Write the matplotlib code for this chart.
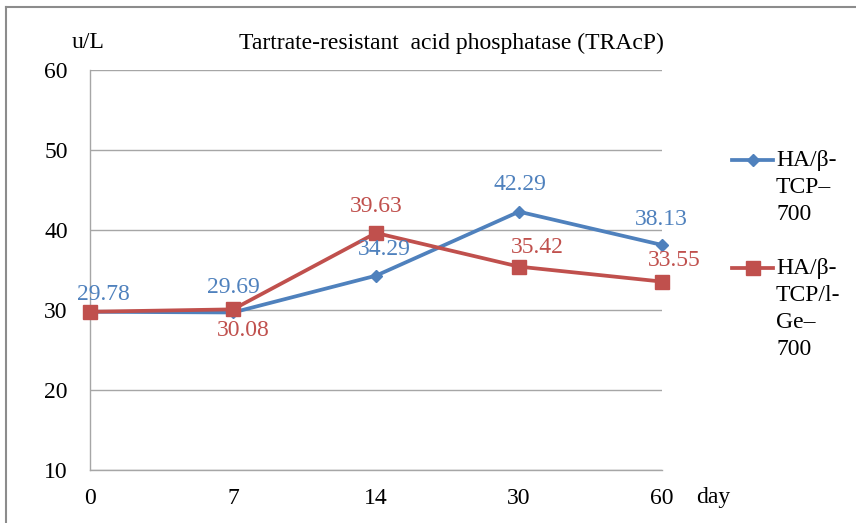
import matplotlib.pyplot as plt
from matplotlib.lines import Line2D

days = ["0", "7", "14", "30", "60"]
ha_tcp = [29.78, 29.69, 34.29, 42.29, 38.13]
ha_tcp_ge = [29.78, 30.08, 39.63, 35.42, 33.55]
y_ticks = [10, 20, 30, 40, 50, 60]
names = ["HA/β-\nTCP–\n700", "HA/β-\nTCP/l-\nGe–\n700"]

BLUE = "#4F81BD"
RED = "#C0504D"
GRID = "#A6A6A6"
FS = 17

plt.rcParams["font.family"] = ["Liberation Serif", "DejaVu Serif"]

fig = plt.figure(figsize=(8.56, 5.23), dpi=100)
W, H = 856, 523
ax = fig.add_axes([90 / W, 1 - 470 / H, (662 - 90) / W, 400 / H])

x = list(range(len(days)))
styles = [dict(color=BLUE, marker="D", ms=6.5, zorder=3),
          dict(color=RED, marker="s", ms=9.5, zorder=4)]
for vals, st in zip([ha_tcp, ha_tcp_ge], styles):
    ax.plot(x, vals, lw=2.7, clip_on=False, **st)

# label offsets in pixels (dx, dy), None = no label
offsets = [[(13, 17), (0, 25), (8, 26), (1, 27), (-1, 25)],
           [None, (10, -21), (0, 26), (18, 19), (12, 21)]]
for vals, offs, col in zip([ha_tcp, ha_tcp_ge], offsets, [BLUE, RED]):
    for i, v in enumerate(vals):
        if offs[i] is None:
            continue
        ax.annotate(f"{v:.2f}", (i, v), xytext=offs[i], textcoords="offset pixels",
                    ha="center", va="center", color=col, fontsize=FS, zorder=5)

ax.set_xlim(0, len(days) - 1)
ax.set_ylim(10, 60)
ax.set_yticks(y_ticks)
ax.set_xticks(x)
ax.set_xticklabels(days)
ax.tick_params(length=0, labelsize=FS)
ax.tick_params(axis="x", pad=13)
ax.tick_params(axis="y", pad=16)
ax.yaxis.grid(True, color=GRID, lw=1)
ax.set_axisbelow(True)
for s in ["top", "right"]:
    ax.spines[s].set_visible(False)
for s in ["left", "bottom"]:
    ax.spines[s].set_color(GRID)
    ax.spines[s].set_linewidth(1)

fig.text(88 / W, 1 - 43 / H, "u/L", ha="center", va="center", fontsize=FS)
fig.text(451 / W, 1 - 43 / H, "Tartrate-resistant  acid phosphatase (TRAcP)",
         ha="center", va="center", fontsize=FS)
fig.text(713 / W, 1 - 497 / H, "day", ha="center", va="center", fontsize=FS)

# legend, handle aligned with the first text line like the original
for name, st, ytop in zip(names, styles, [160, 268]):
    yy = 1 - ytop / H
    fig.add_artist(Line2D([732 / W, 773 / W], [yy, yy], color=st["color"], lw=2.7))
    fig.add_artist(Line2D([752.5 / W], [yy], color=st["color"], marker=st["marker"],
                          ms=st["ms"], lw=0))
    fig.text(776 / W, yy + 10 / H, name, ha="left", va="top", fontsize=FS,
             linespacing=1.38)

# chart frame (cropped on right and bottom)
fig.add_artist(Line2D([6 / W, 6 / W], [0, 1 - 7 / H], color="#8C8C8C", lw=1.5))
fig.add_artist(Line2D([6 / W, 1], [1 - 7 / H, 1 - 7 / H], color="#8C8C8C", lw=1.5))

fig.savefig("out.png", dpi=100)
